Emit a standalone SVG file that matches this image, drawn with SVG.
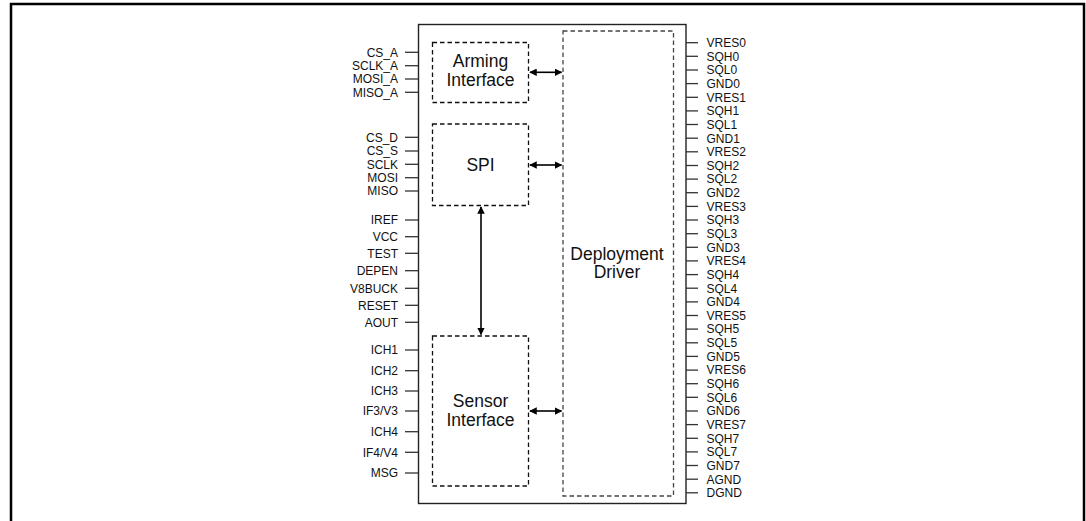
<svg xmlns="http://www.w3.org/2000/svg" width="1086" height="521" viewBox="0 0 1086 521">
<style>
.frame{fill:none;stroke:#000;stroke-width:2.5}
.main{fill:none;stroke:#222;stroke-width:1.4}
.dash{fill:none;stroke:#111;stroke-width:1.3;stroke-dasharray:4.5 3}
.dashg{fill:none;stroke:#444;stroke-width:1.3;stroke-dasharray:4.5 3}
.pin{stroke:#333;stroke-width:1.3}
.lab{font-family:"Liberation Sans",Arial,sans-serif;font-size:12px;fill:#111}
.ll{text-anchor:end}
.big{font-family:"Liberation Sans",Arial,sans-serif;font-size:17.5px;fill:#111;text-anchor:middle}
.arr{stroke:#000;stroke-width:1.6;fill:none;marker-start:url(#ah);marker-end:url(#ah)}
</style>
<defs>
<marker id="ah" viewBox="0 0 10 10" refX="9" refY="5" markerWidth="8" markerHeight="7.5" markerUnits="userSpaceOnUse" orient="auto-start-reverse">
<path d="M0,0 L10,5 L0,10 z" fill="#000"/>
</marker>
</defs>
<rect width="1086" height="521" fill="#fff"/>
<path class="frame" d="M11,523 V4 H1084 V523"/>
<g id="chip"><rect class="main" x="418.5" y="24.5" width="267.5" height="479"/></g>
<g id="arming"><rect class="dash" x="432.5" y="42.5" width="96" height="60"/>
<text class="big" x="480.5" y="67.3">Arming</text><text class="big" x="480.5" y="85.7">Interface</text></g>
<g id="spi"><rect class="dash" x="432.5" y="124" width="96" height="81.5"/>
<text class="big" x="480.5" y="171">SPI</text></g>
<g id="sensor"><rect class="dash" x="432.5" y="336" width="96" height="150"/>
<text class="big" x="480.5" y="406.7">Sensor</text><text class="big" x="480.5" y="425.7">Interface</text></g>
<g id="driver"><rect class="dashg" x="563" y="31" width="110.5" height="465"/>
<text class="big" x="617" y="259.5">Deployment</text><text class="big" x="617" y="277.5">Driver</text></g>
<g id="connectors">
<line class="arr" x1="530" y1="72.3" x2="561.5" y2="72.3"/>
<line class="arr" x1="530" y1="165" x2="561.5" y2="165"/>
<line class="arr" x1="530" y1="411" x2="561.5" y2="411"/>
<line class="arr" x1="481" y1="207" x2="481" y2="334.5"/>
</g>
<g id="left-pins">
<g class="pin">
<line x1="405" y1="52.3" x2="418" y2="52.3"/><line x1="405" y1="65.7" x2="418" y2="65.7"/><line x1="405" y1="79" x2="418" y2="79"/><line x1="405" y1="92.3" x2="418" y2="92.3"/>
<line x1="405" y1="137.3" x2="418" y2="137.3"/><line x1="405" y1="151" x2="418" y2="151"/><line x1="405" y1="164.3" x2="418" y2="164.3"/><line x1="405" y1="177.7" x2="418" y2="177.7"/><line x1="405" y1="191" x2="418" y2="191"/>
<line x1="405" y1="220" x2="418" y2="220"/><line x1="405" y1="236.7" x2="418" y2="236.7"/><line x1="405" y1="253.3" x2="418" y2="253.3"/><line x1="405" y1="270.7" x2="418" y2="270.7"/><line x1="405" y1="288.3" x2="418" y2="288.3"/><line x1="405" y1="305.3" x2="418" y2="305.3"/><line x1="405" y1="322.3" x2="418" y2="322.3"/>
<line x1="405" y1="350" x2="418" y2="350"/><line x1="405" y1="370.7" x2="418" y2="370.7"/><line x1="405" y1="391" x2="418" y2="391"/><line x1="405" y1="411" x2="418" y2="411"/><line x1="405" y1="431.7" x2="418" y2="431.7"/><line x1="405" y1="452.3" x2="418" y2="452.3"/><line x1="405" y1="473" x2="418" y2="473"/>
</g>
<g class="lab ll">
<text x="398" y="56.6">CS_A</text><text x="398" y="70">SCLK_A</text><text x="398" y="83.3">MOSI_A</text><text x="398" y="96.6">MISO_A</text>
<text x="398" y="141.6">CS_D</text><text x="398" y="155.3">CS_S</text><text x="398" y="168.6">SCLK</text><text x="398" y="182">MOSI</text><text x="398" y="195.3">MISO</text>
<text x="398" y="224.3">IREF</text><text x="398" y="241">VCC</text><text x="398" y="257.6">TEST</text><text x="398" y="275">DEPEN</text><text x="398" y="292.6">V8BUCK</text><text x="398" y="309.6">RESET</text><text x="398" y="326.6">AOUT</text>
<text x="398" y="354.3">ICH1</text><text x="398" y="375">ICH2</text><text x="398" y="395.3">ICH3</text><text x="398" y="415.3">IF3/V3</text><text x="398" y="436">ICH4</text><text x="398" y="456.6">IF4/V4</text><text x="398" y="477.3">MSG</text>
</g>
</g>
<g id="right-pins">
<g class="pin">
<line x1="686" y1="42.7" x2="698" y2="42.7"/><line x1="686" y1="56.3" x2="698" y2="56.3"/><line x1="686" y1="70" x2="698" y2="70"/><line x1="686" y1="83.6" x2="698" y2="83.6"/>
<line x1="686" y1="97.3" x2="698" y2="97.3"/><line x1="686" y1="110.9" x2="698" y2="110.9"/><line x1="686" y1="124.5" x2="698" y2="124.5"/><line x1="686" y1="138.2" x2="698" y2="138.2"/>
<line x1="686" y1="151.8" x2="698" y2="151.8"/><line x1="686" y1="165.5" x2="698" y2="165.5"/><line x1="686" y1="179.1" x2="698" y2="179.1"/><line x1="686" y1="192.7" x2="698" y2="192.7"/>
<line x1="686" y1="206.4" x2="698" y2="206.4"/><line x1="686" y1="220" x2="698" y2="220"/><line x1="686" y1="233.7" x2="698" y2="233.7"/><line x1="686" y1="247.3" x2="698" y2="247.3"/>
<line x1="686" y1="260.9" x2="698" y2="260.9"/><line x1="686" y1="274.6" x2="698" y2="274.6"/><line x1="686" y1="288.2" x2="698" y2="288.2"/><line x1="686" y1="301.9" x2="698" y2="301.9"/>
<line x1="686" y1="315.5" x2="698" y2="315.5"/><line x1="686" y1="329.1" x2="698" y2="329.1"/><line x1="686" y1="342.8" x2="698" y2="342.8"/><line x1="686" y1="356.4" x2="698" y2="356.4"/>
<line x1="686" y1="370.1" x2="698" y2="370.1"/><line x1="686" y1="383.7" x2="698" y2="383.7"/><line x1="686" y1="397.3" x2="698" y2="397.3"/><line x1="686" y1="411" x2="698" y2="411"/>
<line x1="686" y1="424.6" x2="698" y2="424.6"/><line x1="686" y1="438.3" x2="698" y2="438.3"/><line x1="686" y1="451.9" x2="698" y2="451.9"/><line x1="686" y1="465.5" x2="698" y2="465.5"/>
<line x1="686" y1="479.2" x2="698" y2="479.2"/><line x1="686" y1="492.8" x2="698" y2="492.8"/>
</g>
<g class="lab">
<text x="706.5" y="47">VRES0</text><text x="706.5" y="60.6">SQH0</text><text x="706.5" y="74.3">SQL0</text><text x="706.5" y="87.9">GND0</text>
<text x="706.5" y="101.6">VRES1</text><text x="706.5" y="115.2">SQH1</text><text x="706.5" y="128.8">SQL1</text><text x="706.5" y="142.5">GND1</text>
<text x="706.5" y="156.1">VRES2</text><text x="706.5" y="169.8">SQH2</text><text x="706.5" y="183.4">SQL2</text><text x="706.5" y="197">GND2</text>
<text x="706.5" y="210.7">VRES3</text><text x="706.5" y="224.3">SQH3</text><text x="706.5" y="238">SQL3</text><text x="706.5" y="251.6">GND3</text>
<text x="706.5" y="265.2">VRES4</text><text x="706.5" y="278.9">SQH4</text><text x="706.5" y="292.5">SQL4</text><text x="706.5" y="306.2">GND4</text>
<text x="706.5" y="319.8">VRES5</text><text x="706.5" y="333.4">SQH5</text><text x="706.5" y="347.1">SQL5</text><text x="706.5" y="360.7">GND5</text>
<text x="706.5" y="374.4">VRES6</text><text x="706.5" y="388">SQH6</text><text x="706.5" y="401.6">SQL6</text><text x="706.5" y="415.3">GND6</text>
<text x="706.5" y="428.9">VRES7</text><text x="706.5" y="442.6">SQH7</text><text x="706.5" y="456.2">SQL7</text><text x="706.5" y="469.8">GND7</text>
<text x="706.5" y="483.5">AGND</text><text x="706.5" y="497.1">DGND</text>
</g>
</g>
</svg>
